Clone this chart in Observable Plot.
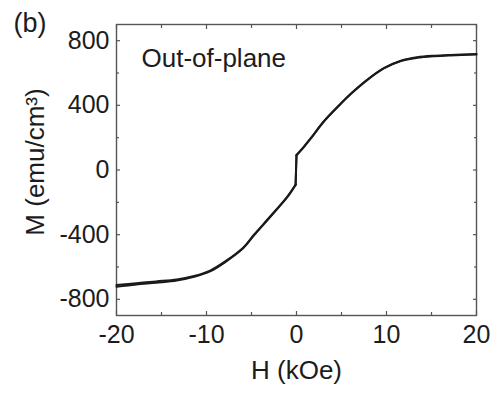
<!DOCTYPE html>
<html>
<head>
<meta charset="utf-8">
<script src="https://cdn.jsdelivr.net/npm/d3@7"></script>
<script src="https://cdn.jsdelivr.net/npm/@observablehq/plot@0.6"></script>
<style>
  html, body { margin: 0; padding: 0; background: #fff; }
  svg { display: block; }
</style>
</head>
<body>
<div id="chart"></div>
<script>
// Applied field H (kOe), shared by both sweeps
const field = [-20, -17.8, -15.6, -13.3, -11.5, -9.6, -7.8, -5.9, -4.7, -2.9, -1.0, -0.1, 0, 0.8, 1.6, 3.0, 4.9, 6.0, 7.85, 9.7, 11.6, 13.4, 15.3, 17.1, 20];
// Magnetization M (emu/cm3), ascending sweep
const momentUp   = [-722, -708, -697, -684, -662, -627, -565, -483, -403, -289, -167, -92, 90, 140, 195, 297, 408, 468, 556, 628, 674, 694, 704, 709, 714];
// Magnetization M (emu/cm3), descending sweep
const momentDown = [-712, -700, -689, -677, -657, -622, -561, -479, -399, -286, -163, -90, 93, 143, 198, 299, 410, 470, 558, 630, 676, 697, 707, 712, 717];

const xMajor = [-20, -10, 0, 10, 20];
const xMinor = [-15, -5, 5, 15];
const yMajor = [-800, -400, 0, 400, 800];
const yMinor = [-600, -200, 200, 600];
const xLabel = "H (kOe)";
const yLabel = "M (emu/cm³)";
const panelLabel = "(b)";
const annotation = "Out-of-plane";

const rows = [];
field.forEach((h, i) => rows.push({H: h, M: momentUp[i], branch: "up"}));
field.forEach((h, i) => rows.push({H: h, M: momentDown[i], branch: "down"}));
rows.forEach(d => d.side = d.H < 0 ? "neg" : "pos");
const jumpRows = rows.filter(d => Math.abs(d.H) <= 0.1);

const font = "'Liberation Sans', Arial, Helvetica, sans-serif";
const ink = "#1c1c1c";
const axisInk = "#555";
const fmt = d => d.toString();

const chart = Plot.plot({
  width: 496,
  height: 399,
  marginLeft: 116,
  marginRight: 20,
  marginTop: 24,
  marginBottom: 84,
  style: {fontFamily: font, color: ink, background: "#fff"},
  x: {domain: [-20, 20]},
  y: {domain: [-900, 900]},
  marks: [
    // inward ticks on all four sides
    Plot.axisX(xMajor, {anchor: "bottom", tickSize: -4, text: null, label: null, stroke: axisInk, strokeWidth: 1.2}),
    Plot.axisX(xMinor, {anchor: "bottom", tickSize: -3, text: null, label: null, stroke: axisInk, strokeWidth: 1.2}),
    Plot.axisX(xMajor, {anchor: "top", tickSize: -4, text: null, label: null, stroke: axisInk, strokeWidth: 1.2}),
    Plot.axisX(xMinor, {anchor: "top", tickSize: -3, text: null, label: null, stroke: axisInk, strokeWidth: 1.2}),
    Plot.axisY(yMajor, {anchor: "left", tickSize: -4, text: null, label: null, stroke: axisInk, strokeWidth: 1.2}),
    Plot.axisY(yMinor, {anchor: "left", tickSize: -3, text: null, label: null, stroke: axisInk, strokeWidth: 1.2}),
    Plot.axisY(yMajor, {anchor: "right", tickSize: -4, text: null, label: null, stroke: axisInk, strokeWidth: 1.2}),
    Plot.axisY(yMinor, {anchor: "right", tickSize: -3, text: null, label: null, stroke: axisInk, strokeWidth: 1.2}),
    // tick labels
    Plot.axisX(xMajor, {anchor: "bottom", tickSize: 0, tickPadding: 10, label: null, tickFormat: fmt, fontSize: 25, fill: ink}),
    Plot.axisY(yMajor, {anchor: "left", tickSize: 0, tickPadding: 7, label: null, tickFormat: fmt, fontSize: 25, fill: ink}),
    Plot.frame({stroke: axisInk, strokeWidth: 1.4}),
    // hysteresis branches
    Plot.line(rows, {x: "H", y: "M", z: d => d.branch + d.side, curve: "catmull-rom", stroke: "#1a1a1a", strokeWidth: 2}),
    Plot.line(jumpRows, {x: "H", y: "M", z: "branch", stroke: "#1a1a1a", strokeWidth: 2}),
    // texts
    Plot.text([xLabel], {frameAnchor: "bottom", textAnchor: "middle", lineAnchor: "middle", dy: 55, fontSize: 26, fill: ink}),
    Plot.text([yLabel], {frameAnchor: "left", textAnchor: "middle", lineAnchor: "middle", rotate: -90, dx: -81, dy: -8, fontSize: 26, fill: ink}),
    Plot.text([annotation], {frameAnchor: "top-left", textAnchor: "start", lineAnchor: "top", dx: 25, dy: 24, fontSize: 26, fill: ink}),
    Plot.text([panelLabel], {frameAnchor: "top-left", textAnchor: "start", lineAnchor: "top", dx: -103, dy: -12, fontSize: 27, fill: ink})
  ]
});
document.getElementById("chart").appendChild(chart);
</script>
</body>
</html>
